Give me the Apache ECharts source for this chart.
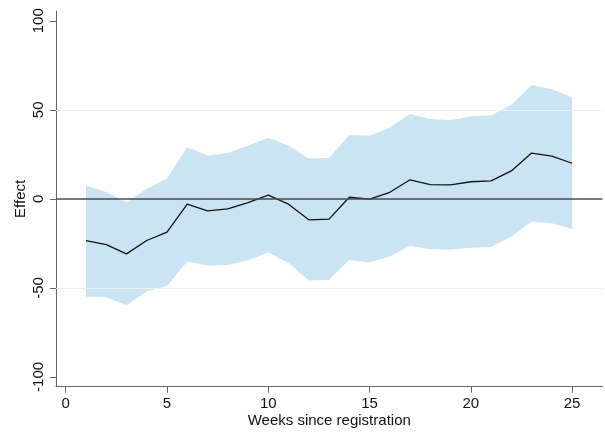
<!DOCTYPE html>
<html>
<head>
<meta charset="utf-8">
<script src="https://cdn.jsdelivr.net/npm/echarts@6/dist/echarts.min.js"></script>
<style>html,body{margin:0;padding:0;background:#fff}#c{width:605px;height:432px}</style>
</head>
<body>
<div id="c"></div>
<script>
var weeks = [1,2,3,4,5,6,7,8,9,10,11,12,13,14,15,16,17,18,19,20,21,22,23,24,25];
var effect = [-23.4,-25.7,-30.9,-23.4,-18.7,-3.0,-6.7,-5.6,-2.1,2.1,-3.0,-11.8,-11.4,0.9,-0.2,3.7,10.7,8.0,7.9,9.6,10.1,15.7,25.7,24.0,20.0];
var upper = [7.5,3.8,-1.9,5.6,11.6,29.0,24.3,25.8,29.8,34.3,30.0,22.7,22.9,35.8,35.4,39.9,47.6,44.8,44.2,46.4,46.8,52.8,64.0,61.6,57.1];
var lower = [-54.9,-55.2,-59.7,-52.1,-48.9,-35.2,-37.5,-37.1,-34.5,-30.1,-36.0,-45.9,-45.5,-34.3,-35.8,-32.4,-26.4,-28.3,-28.5,-27.5,-27.0,-21.2,-12.7,-13.7,-17.0];
var xTicks = [0,5,10,15,20,25];
var yTicks = [-100,-50,0,50,100];
var gridLines = [-50,50];
var zeroLine = [0];

var chart = echarts.init(document.getElementById('c'), null, {renderer:'canvas'});
var font = 'Liberation Sans, Arial, Helvetica, sans-serif';
var bandData = weeks.map(function(w,i){ return [w, lower[i], upper[i]]; });

chart.setOption({
  animation: false,
  grid: {left: 56, top: 11, right: 2.5, bottom: 45.3, containLabel: false, outerBoundsMode: 'none'},
  xAxis: {
    type: 'value', min: -0.48, max: 26.5,
    name: 'Weeks since registration', nameLocation: 'middle', nameGap: 27, nameMoveOverlap: false,
    nameTextStyle: {fontFamily: font, fontSize: 15, color: '#111'},
    axisLine: {show: true, onZero: false, lineStyle: {color: '#666', width: 1}},
    axisTick: {show: true, length: 6, customValues: xTicks, lineStyle: {color: '#666'}},
    axisLabel: {customValues: xTicks, fontFamily: font, fontSize: 15, color: '#111', margin: 9.5},
    splitLine: {show: false}
  },
  yAxis: {
    type: 'value', min: -105.5, max: 105.5,
    name: 'Effect', nameLocation: 'middle', nameGap: 27.5, nameRotate: 90, nameMoveOverlap: false,
    nameTextStyle: {fontFamily: font, fontSize: 15, color: '#111'},
    axisLine: {show: true, onZero: false, lineStyle: {color: '#666', width: 1}},
    axisTick: {show: true, length: 6, customValues: yTicks, lineStyle: {color: '#666'}},
    axisLabel: {customValues: yTicks, rotate: 90, fontFamily: font, fontSize: 15, color: '#111', margin: 10},
    splitLine: {show: false}
  },
  series: [
    {
      type: 'line', data: [], z: 1, silent: true,
      markLine: {
        silent: true, symbol: 'none', label: {show: false},
        data: gridLines.map(function(v){ return {yAxis: v, lineStyle: {color: '#eaf1f3', width: 1.2, type: 'solid'}}; })
          .concat(zeroLine.map(function(v){ return {yAxis: v, lineStyle: {color: '#4a4a4a', width: 1.6, type: 'solid'}}; }))
      }
    },
    {
      type: 'custom', z: 2, silent: true,
      data: bandData,
      renderItem: function(params, api) {
        if (params.dataIndex !== 0) return null;
        var pts = [];
        for (var i = 0; i < bandData.length; i++) pts.push(api.coord([bandData[i][0], bandData[i][2]]));
        for (var j = bandData.length - 1; j >= 0; j--) pts.push(api.coord([bandData[j][0], bandData[j][1]]));
        return {type: 'polygon', shape: {points: pts}, style: {fill: '#cbe4f3', stroke: null}};
      },
      encode: {x: 0, y: [1, 2]}
    },
    {
      type: 'line', z: 3, silent: true,
      data: weeks.map(function(w,i){ return [w, effect[i]]; }),
      showSymbol: false, symbol: 'none',
      lineStyle: {color: '#111', width: 1.3}
    }
  ]
});
</script>
</body>
</html>
